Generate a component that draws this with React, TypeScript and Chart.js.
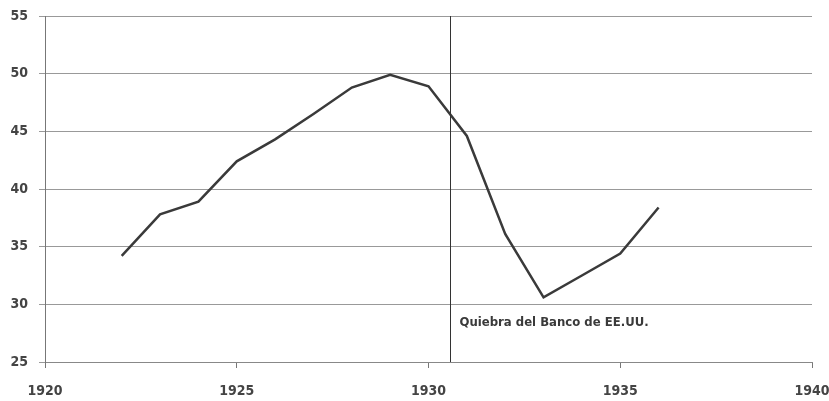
import React, { useEffect, useRef } from "react";
import { Chart, registerables } from "chart.js";

Chart.register(...registerables);

const years = [1922, 1923, 1924, 1925, 1926, 1927, 1928, 1929, 1930, 1931, 1932, 1933, 1934, 1935, 1936];
const values = [34.2, 37.8, 38.9, 42.4, 44.3, 46.5, 48.8, 49.9, 48.9, 44.6, 36.1, 30.6, 32.5, 34.4, 38.4];
const xTicks = [1920, 1925, 1930, 1935, 1940];
const yTicks = [25, 30, 35, 40, 45, 50, 55];
const eventYear = 1930.55;
const eventLabel = "Quiebra del Banco de EE.UU.";
const eventLabelValue = 28.4;

const FONT = "'DejaVu Sans Condensed', 'DejaVu Sans', sans-serif";

export default function App() {
  const ref = useRef<HTMLCanvasElement | null>(null);
  useEffect(() => {
    const canvas = ref.current;
    if (!canvas) return;
    const eventPlugin = {
      id: "eventLine",
      afterDatasetsDraw(chart: any) {
        const { ctx, chartArea, scales } = chart;
        const x = Math.round(scales.x.getPixelForValue(eventYear)) + 0.5;
        ctx.save();
        ctx.strokeStyle = "#333";
        ctx.lineWidth = 1;
        ctx.beginPath();
        ctx.moveTo(x, chartArea.top);
        ctx.lineTo(x, chartArea.bottom);
        ctx.stroke();
        ctx.fillStyle = "#3a3a3a";
        ctx.font = "bold 13px " + FONT;
        ctx.textBaseline = "middle";
        ctx.textAlign = "left";
        ctx.fillText(eventLabel, x + 9, scales.y.getPixelForValue(eventLabelValue));
        ctx.restore();
      },
    };
    const chart = new Chart(canvas, {
      type: "line",
      data: {
        datasets: [
          {
            data: years.map((y, i) => ({ x: y, y: values[i] })),
            borderColor: "#3a3a3a",
            borderWidth: 2.5,
            pointRadius: 0,
            tension: 0,
            fill: false,
          },
        ],
      },
      options: {
        animation: false,
        responsive: false,
        maintainAspectRatio: false,
        layout: { padding: { top: 16, right: 17, left: 0, bottom: 0 } },
        plugins: { legend: { display: false }, tooltip: { enabled: false } },
        scales: {
          x: {
            type: "linear",
            min: 1920,
            max: 1940,
            afterBuildTicks: (s: any) => {
              s.ticks = xTicks.map((v) => ({ value: v }));
            },
            afterFit: (s: any) => {
              s.height = 39;
              s.paddingLeft = 0;
              s.paddingRight = 0;
            },
            ticks: {
              color: "#444",
              font: { family: FONT, size: 14, weight: "bold" },
              padding: 15,
              maxRotation: 0,
              callback: (v: any) => String(v),
            },
            grid: {
              drawOnChartArea: false,
              drawTicks: true,
              tickLength: 6,
              color: "#777",
            },
            border: { display: true, color: "#888" },
          },
          y: {
            type: "linear",
            min: 25,
            max: 55,
            afterBuildTicks: (s: any) => {
              s.ticks = yTicks.map((v) => ({ value: v }));
            },
            afterFit: (s: any) => {
              s.width = 45;
              s.paddingTop = 0;
              s.paddingBottom = 0;
            },
            ticks: {
              color: "#444",
              font: { family: FONT, size: 14, weight: "bold" },
              padding: 11,
            },
            grid: {
              color: "#999",
              lineWidth: 1,
              tickLength: 6,
            },
            border: { display: true, color: "#777" },
          },
        },
      },
      plugins: [eventPlugin],
    } as any);
    return () => chart.destroy();
  }, []);
  return (
    <div style={{ position: "fixed", left: 0, top: 0, width: 829, height: 401, background: "#fff" }}>
      <canvas ref={ref} width={829} height={401} style={{ width: 829, height: 401, display: "block" }} />
    </div>
  );
}
